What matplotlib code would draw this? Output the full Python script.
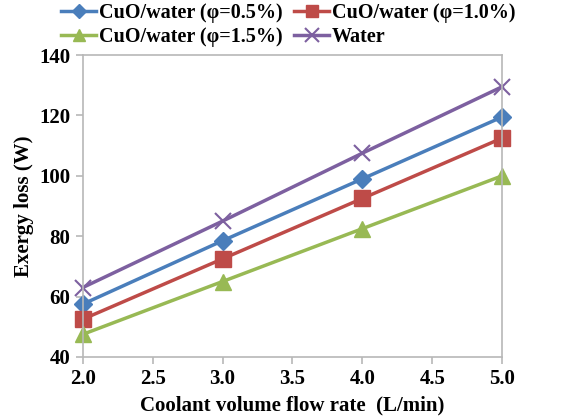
import matplotlib
matplotlib.use('Agg')
import matplotlib.pyplot as plt

flow = [2.0, 3.0, 4.0, 5.0]
cuo_05 = [57.5, 78.5, 99.0, 119.5]
cuo_10 = [52.5, 72.5, 92.5, 112.5]
cuo_15 = [47.5, 65.0, 82.5, 100.0]
water = [63.0, 85.0, 107.5, 129.5]

labels = ['CuO/water (\u03c6=0.5%)', 'CuO/water (\u03c6=1.0%)',
          'CuO/water (\u03c6=1.5%)', 'Water']

plt.rcParams['font.family'] = ['Liberation Serif', 'DejaVu Serif']
plt.rcParams['font.weight'] = 'bold'

fig = plt.figure(figsize=(5.63, 4.2), dpi=100)
ax = fig.add_axes([0.147, 0.15, 0.745, 0.719])

l1, = ax.plot(flow, cuo_05, color='#4a7ebb', lw=2.5, marker='D', ms=9, clip_on=False)
l2, = ax.plot(flow, cuo_10, color='#be4b48', lw=2.5, marker='s', ms=11, clip_on=False)
l3, = ax.plot(flow, cuo_15, color='#98b954', lw=2.5, marker='^', ms=11, clip_on=False)
l4, = ax.plot(flow, water, color='#7d60a0', lw=2.5, marker='x', ms=12, mew=1.5, clip_on=False)

ax.set_xlim(2.0, 5.0)
ax.set_ylim(40, 140)
ax.set_xticks([2.0, 2.5, 3.0, 3.5, 4.0, 4.5, 5.0])
ax.set_xticklabels(['2.0', '2.5', '3.0', '3.5', '4.0', '4.5', '5.0'])
ax.set_yticks(range(40, 141, 20))
for s in ax.spines.values():
    s.set_color('#b8b8b8')
    s.set_linewidth(1.2)
ax.tick_params(colors='#b8b8b8', labelcolor='black', labelsize=15, length=5, width=1.2, pad=4)
for t in ax.get_xticklabels() + ax.get_yticklabels():
    t.set_fontweight('bold')

ax.set_xlabel('Coolant volume flow rate  (L/min)', fontsize=15, fontweight='bold', labelpad=4)
ax.set_ylabel('Exergy loss (W)', fontsize=15, fontweight='bold', labelpad=4)

ax.legend([l1, l3, l2, l4], [labels[0], labels[2], labels[1], labels[3]],
          loc='lower center', bbox_to_anchor=(0.49, 1.0), ncol=2, frameon=False,
          prop={'size': 14.5, 'weight': 'bold'}, handlelength=1.7, handletextpad=0.15,
          columnspacing=0.6, labelspacing=0.2, borderaxespad=0, markerscale=0.8)

fig.savefig('out.png', dpi=100)
